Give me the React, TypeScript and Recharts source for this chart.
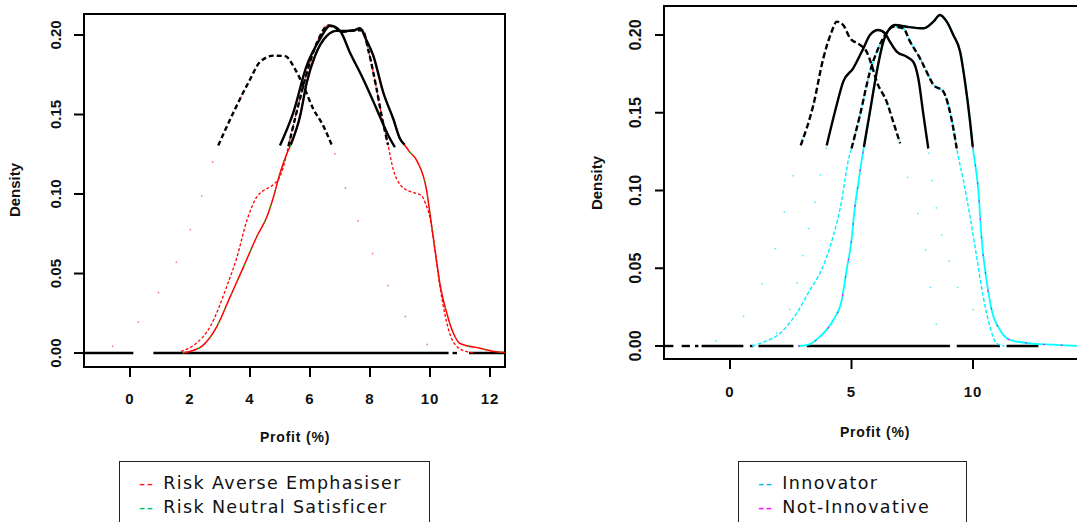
import React from 'react';
import { LineChart, Line, XAxis, YAxis, ReferenceArea, ReferenceLine, Legend } from 'recharts';

type P = [number, number];
const pts = (a: P[]) => a.map(([x, y]) => ({ x, y }));

// ---------------- Left panel data ----------------
const leftXTicks = [0, 2, 4, 6, 8, 10, 12];
const leftYTicks = [0, 0.05, 0.1, 0.15, 0.2];
const leftXDomain: [number, number] = [-1.5333, 12.5];
const leftYDomain: [number, number] = [-0.00878, 0.2132];

const leftSolidLow: P[] = [[1.75, 0], [2.0, 0.001], [2.44, 0.005], [2.89, 0.0165], [3.33, 0.035], [3.78, 0.054], [4.22, 0.073], [4.56, 0.0855], [4.78, 0.098], [5.0, 0.113], [5.22, 0.125]];
const leftSolidTop: P[] = [[5.36, 0.131], [5.67, 0.149], [5.89, 0.17], [6.17, 0.187], [6.56, 0.1995], [6.89, 0.2026], [7.2, 0.2025], [7.45, 0.2028], [7.67, 0.2043], [7.85, 0.198], [8.11, 0.187], [8.44, 0.164], [8.78, 0.147], [9.0, 0.1347], [9.15, 0.131]];
const leftSolidHigh: P[] = [[9.3, 0.127], [9.56, 0.121], [9.89, 0.102], [10.0, 0.0876], [10.17, 0.0646], [10.33, 0.0437], [10.56, 0.025], [10.78, 0.0124], [11.0, 0.006], [11.67, 0.003], [12.2, 0.0008], [12.5, 0.0003]];

const leftDashLow: P[] = [[1.7, 0.001], [2.2, 0.006], [2.67, 0.0165], [3.22, 0.0416], [3.56, 0.06], [3.89, 0.083], [4.22, 0.098], [4.44, 0.102], [4.78, 0.106], [5.0, 0.111], [5.17, 0.121]];
const leftDashTop: P[] = [[5.28, 0.13], [5.6, 0.155], [6.0, 0.183], [6.3, 0.198], [6.6, 0.206], [6.8, 0.205], [7.1, 0.202], [7.5, 0.203], [7.75, 0.203], [7.95, 0.19], [8.2, 0.168], [8.4, 0.148], [8.6, 0.131]];
const leftDashHigh: P[] = [[8.78, 0.115], [9.0, 0.106], [9.17, 0.103], [9.44, 0.101], [9.72, 0.099], [9.85, 0.094], [10.0, 0.085], [10.17, 0.064], [10.33, 0.042], [10.5, 0.024], [10.7, 0.01], [10.9, 0.004], [11.2, 0.001], [11.5, 0]];

const leftPeakTop: P[] = [[5.0, 0.1305], [5.44, 0.151], [5.89, 0.1807], [6.33, 0.1974], [6.67, 0.2058], [7.0, 0.2026], [7.33, 0.189], [7.78, 0.172], [8.22, 0.1535], [8.61, 0.1368], [8.83, 0.1294]];

const leftEarlyLow: P[] = [[-0.6, 0.004], [-0.2, 0.0098], [0.14, 0.0165], [0.74, 0.0318], [1.97, 0.0755], [2.5, 0.105]];
const leftEarlyTop: P[] = [[2.94, 0.1305], [3.44, 0.151], [4.0, 0.172], [4.33, 0.183], [4.78, 0.187], [5.17, 0.1867], [5.5, 0.1786], [5.78, 0.168], [6.11, 0.1535], [6.44, 0.143], [6.72, 0.131]];
const leftEarlyHigh: P[] = [[7.3, 0.097], [7.63, 0.082], [8.2, 0.058], [9.11, 0.025], [9.97, 0.0044], [10.4, 0]];

const leftZeroSegments: P[] = [[-1.5333, 0.11], [0.78, 10.62], [10.75, 10.9], [11.3, 12.5]];

const leftLegend = [
  { label: 'Risk Averse Emphasiser', color: '#ff1a1a' },
  { label: 'Risk Neutral Satisficer', color: '#00c060' },
];

// ---------------- Right panel data ----------------
const rightXTicks = [0, 5, 10];
const rightYTicks = [0, 0.05, 0.1, 0.15, 0.2];
const rightXDomain: [number, number] = [-2.716, 14.403];
const rightYDomain: [number, number] = [-0.00836, 0.21865];

const rightDashLow: P[] = [[0.9, 0], [1.23, 0.0017], [2.06, 0.0082], [2.74, 0.021], [3.29, 0.036], [3.7, 0.0468], [4.12, 0.0639], [4.39, 0.079], [4.6, 0.0939], [4.73, 0.1068], [4.87, 0.1196]];
const rightDashTop: P[] = [[5.0, 0.127], [5.35, 0.1486], [5.76, 0.1764], [6.1, 0.1914], [6.4, 0.2005], [6.72, 0.2053], [7.13, 0.2043], [7.41, 0.1957], [7.82, 0.185], [8.09, 0.1764], [8.37, 0.168], [8.78, 0.1636], [8.98, 0.155], [9.19, 0.14], [9.33, 0.127]];
const rightDashHigh: P[] = [[9.6, 0.1068], [9.88, 0.083], [10.15, 0.0574], [10.42, 0.0317], [10.7, 0.0124], [10.97, 0.0017], [11.3, 0]];

const rightSolidLow: P[] = [[2.8, 0], [3.16, 0.0005], [3.7, 0.006], [4.25, 0.0167], [4.6, 0.0296], [4.8, 0.0489], [5.0, 0.068], [5.14, 0.0896], [5.28, 0.1046], [5.42, 0.1196]];
const rightSolidTop: P[] = [[5.51, 0.128], [5.76, 0.1507], [6.04, 0.1764], [6.31, 0.1957], [6.58, 0.2043], [6.79, 0.2064], [7.27, 0.2053], [7.96, 0.2043], [8.37, 0.2086], [8.64, 0.2129], [8.92, 0.2086], [9.19, 0.2], [9.47, 0.1893], [9.67, 0.17], [9.88, 0.1442], [9.99, 0.128]];
const rightSolidHigh: P[] = [[10.22, 0.1], [10.36, 0.068], [10.56, 0.042], [10.77, 0.023], [11.11, 0.0103], [11.52, 0.0039], [12.35, 0.0017], [13.6, 0.0006], [14.403, 0]];

const rightEarlyLow: P[] = [[-0.6, 0.003], [-0.34, 0.005], [1.19, 0.036], [1.67, 0.053], [2.3, 0.09]];
const rightEarlyTop: P[] = [[2.91, 0.129], [3.43, 0.155], [3.84, 0.185], [4.18, 0.202], [4.39, 0.2086], [4.66, 0.2064], [4.94, 0.198], [5.35, 0.1936], [5.62, 0.1893], [5.83, 0.1807], [6.04, 0.17], [6.45, 0.157], [6.72, 0.144], [7.0, 0.1303]];
const rightEarlyHigh: P[] = [[7.1, 0.122], [7.55, 0.095], [7.9, 0.075], [8.57, 0.009], [9.0, 0]];

const rightMidLow: P[] = [[1.9, 0.008], [2.4, 0.021], [2.72, 0.038], [3.18, 0.072], [3.5, 0.093], [3.81, 0.117]];
const rightMidTop: P[] = [[3.98, 0.129], [4.39, 0.155], [4.66, 0.17], [5.07, 0.1786], [5.49, 0.1914], [5.76, 0.2], [6.1, 0.2032], [6.38, 0.201], [6.58, 0.1957], [6.86, 0.1893], [7.27, 0.186], [7.54, 0.1828], [7.75, 0.172], [7.96, 0.1486], [8.16, 0.127]];
const rightMidHigh: P[] = [[8.37, 0.1], [8.64, 0.077], [9.05, 0.053], [9.33, 0.039], [9.74, 0.028], [10.15, 0.021], [10.6, 0.012]];

const rightZeroSegments: P[] = [[-2.716, -2.33], [-1.99, -1.65], [-1.44, -1.3], [-1.17, 0.55], [0.82, 0.96], [1.17, 2.61], [3.16, 9.05], [9.33, 11.11], [11.38, 12.69]];

const rightLegend = [
  { label: 'Innovator', color: '#00b8f0' },
  { label: 'Not-Innovative', color: '#ff00ff' },
];

// ---------------- Series definitions ----------------
type S = { data: P[]; stroke: string; width: number; dash?: string; opacity?: number };

const leftSeries: S[] = [
  { data: [...leftEarlyLow, ...leftEarlyTop, ...leftEarlyHigh], stroke: '#ff3030', width: 1.5, dash: '1.5 34', opacity: 0.7 },
  { data: [...leftSolidLow, ...leftSolidTop, ...leftSolidHigh], stroke: '#ff0000', width: 1.5 },
  { data: [...leftSolidLow, ...leftSolidTop, ...leftSolidHigh], stroke: '#00c800', width: 1.1, dash: '2 14' },
  { data: [...leftDashLow, ...leftDashTop, ...leftDashHigh], stroke: '#ff0000', width: 1.3, dash: '3 2' },
  { data: leftEarlyTop, stroke: '#000', width: 2.4, dash: '5 3' },
  { data: leftPeakTop, stroke: '#000', width: 2.4 },
  { data: leftDashTop, stroke: '#000', width: 2.4, dash: '5 3' },
  { data: leftSolidTop, stroke: '#000', width: 2.4 },
];

const rightSeries: S[] = [
  { data: [...rightEarlyLow, ...rightEarlyTop, ...rightEarlyHigh], stroke: '#00e8ff', width: 1.5, dash: '1.5 36', opacity: 0.75 },
  { data: [...rightMidLow, ...rightMidTop, ...rightMidHigh], stroke: '#00e8ff', width: 1.5, dash: '1.5 26', opacity: 0.75 },
  { data: [...rightSolidLow, ...rightSolidTop, ...rightSolidHigh], stroke: '#00ffff', width: 1.8 },
  { data: [...rightSolidLow, ...rightSolidTop, ...rightSolidHigh], stroke: '#ff00ff', width: 1.1, dash: '2 16' },
  { data: [...rightDashLow, ...rightDashTop, ...rightDashHigh], stroke: '#00f0ff', width: 1.4, dash: '4 2' },
  { data: rightEarlyTop, stroke: '#000', width: 2.4, dash: '6 3' },
  { data: rightMidTop, stroke: '#000', width: 2.4 },
  { data: rightDashTop, stroke: '#000', width: 2.4, dash: '6 3' },
  { data: rightSolidTop, stroke: '#000', width: 2.4 },
];

const tickFont = '"Liberation Sans", Arial, sans-serif';
const legendFont = '"DejaVu Sans", Verdana, sans-serif';

function LegendBox({ items, width }: { items: { label: string; color: string }[]; width: number }) {
  return (
    <div
      style={{
        width,
        height: 80,
        boxSizing: 'border-box',
        border: '1.5px solid #222',
        background: '#fff',
        padding: '9px 0 0 19px',
        fontFamily: legendFont,
        fontSize: 17.5,
        letterSpacing: 1.35,
        lineHeight: '24px',
        color: '#111',
        whiteSpace: 'nowrap',
      }}
    >
      {items.map((it) => (
        <div key={it.label}>
          <span style={{ color: it.color, marginRight: 9 }}>--</span>
          {it.label}
        </div>
      ))}
    </div>
  );
}

function renderLines(series: S[]) {
  return series.map((s, i) => (
    <Line
      key={i}
      data={pts(s.data)}
      dataKey="y"
      type="monotone"
      stroke={s.stroke}
      strokeWidth={s.width}
      strokeDasharray={s.dash}
      strokeOpacity={s.opacity ?? 1}
      dot={false}
      activeDot={false}
      legendType="none"
      isAnimationActive={false}
    />
  ));
}

function renderZero(segs: P[]) {
  return segs.map(([a, b], i) => (
    <ReferenceLine
      key={'z' + i}
      segment={[{ x: a, y: 0 }, { x: b, y: 0 }]}
      stroke="#000"
      strokeWidth={2.4}
      ifOverflow="visible"
    />
  ));
}

export default function App() {
  return (
    <div style={{ position: 'absolute', left: 0, top: 0, width: 1077, height: 522, overflow: 'hidden', background: '#fff' }}>
      {/* Left panel */}
      <div style={{ position: 'absolute', left: 0, top: 0 }}>
        <LineChart width={540} height={522} margin={{ top: 14, right: 35, bottom: 0, left: 0 }}>
          <XAxis
            type="number"
            dataKey="x"
            domain={leftXDomain}
            ticks={leftXTicks}
            interval={0}
            allowDataOverflow
            height={155}
            axisLine={false}
            tickLine={{ stroke: '#000', strokeWidth: 2 }}
            tickSize={10}
            tick={(p: any) => (
              <text x={p.x} y={404} textAnchor="middle" fontFamily={tickFont} fontSize={15} fontWeight={700} letterSpacing={1} fill="#111">
                {p.payload.value}
              </text>
            )}
            label={{
              content: () => (
                <text x={295} y={442} textAnchor="middle" fontFamily={tickFont} fontSize={14} fontWeight={700} letterSpacing={0.8} fill="#111">
                  Profit (%)
                </text>
              ),
            }}
          />
          <YAxis
            type="number"
            domain={leftYDomain}
            ticks={leftYTicks}
            interval={0}
            allowDataOverflow
            width={84}
            axisLine={false}
            tickLine={{ stroke: '#000', strokeWidth: 2 }}
            tickSize={10}
            tick={(p: any) => (
              <text x={61} y={p.y} transform={`rotate(-90, 61, ${p.y})`} textAnchor="middle" fontFamily={tickFont} fontSize={15} fontWeight={700} fill="#111">
                {Number(p.payload.value).toFixed(2)}
              </text>
            )}
            label={{
              content: () => (
                <text x={20} y={190} transform="rotate(-90, 20, 190)" textAnchor="middle" fontFamily={tickFont} fontSize={15} fontWeight={700} fill="#111">
                  Density
                </text>
              ),
            }}
          />
          {renderZero(leftZeroSegments)}
          {renderLines(leftSeries)}
          <ReferenceArea
            x1={leftXDomain[0]}
            x2={leftXDomain[1]}
            y1={leftYDomain[0]}
            y2={leftYDomain[1]}
            fill="none"
            stroke="#000"
            strokeWidth={2}
            ifOverflow="visible"
          />
          <Legend
            layout="vertical"
            verticalAlign="middle"
            align="center"
            wrapperStyle={{ left: 119, top: 461, width: 311, height: 80 }}
            content={() => <LegendBox items={leftLegend} width={311} />}
          />
        </LineChart>
      </div>

      {/* Right panel */}
      <div style={{ position: 'absolute', left: 560, top: 0 }}>
        <LineChart width={530} height={522} margin={{ top: 6, right: 10, bottom: 0, left: 0 }}>
          <XAxis
            type="number"
            dataKey="x"
            domain={rightXDomain}
            ticks={rightXTicks}
            interval={0}
            allowDataOverflow
            height={163}
            axisLine={false}
            tickLine={{ stroke: '#000', strokeWidth: 2 }}
            tickSize={10}
            tick={(p: any) => (
              <text x={p.x} y={397} textAnchor="middle" fontFamily={tickFont} fontSize={15} fontWeight={700} letterSpacing={1} fill="#111">
                {p.payload.value}
              </text>
            )}
            label={{
              content: () => (
                <text x={315} y={437} textAnchor="middle" fontFamily={tickFont} fontSize={14} fontWeight={700} letterSpacing={0.8} fill="#111">
                  Profit (%)
                </text>
              ),
            }}
          />
          <YAxis
            type="number"
            domain={rightYDomain}
            ticks={rightYTicks}
            interval={0}
            allowDataOverflow
            width={104}
            axisLine={false}
            tickLine={{ stroke: '#000', strokeWidth: 2 }}
            tickSize={9}
            tick={(p: any) => (
              <text x={81} y={p.y} transform={`rotate(-90, 81, ${p.y})`} textAnchor="middle" fontFamily={tickFont} fontSize={16} fontWeight={700} fill="#111">
                {Number(p.payload.value).toFixed(2)}
              </text>
            )}
            label={{
              content: () => (
                <text x={42} y={183} transform="rotate(-90, 42, 183)" textAnchor="middle" fontFamily={tickFont} fontSize={15} fontWeight={700} fill="#111">
                  Density
                </text>
              ),
            }}
          />
          {renderZero(rightZeroSegments)}
          {renderLines(rightSeries)}
          <ReferenceArea
            x1={rightXDomain[0]}
            x2={rightXDomain[1]}
            y1={rightYDomain[0]}
            y2={rightYDomain[1]}
            fill="none"
            stroke="#000"
            strokeWidth={2}
            ifOverflow="visible"
          />
          <Legend
            layout="vertical"
            verticalAlign="middle"
            align="center"
            wrapperStyle={{ left: 178, top: 461, width: 229, height: 80 }}
            content={() => <LegendBox items={rightLegend} width={229} />}
          />
        </LineChart>
      </div>
    </div>
  );
}
